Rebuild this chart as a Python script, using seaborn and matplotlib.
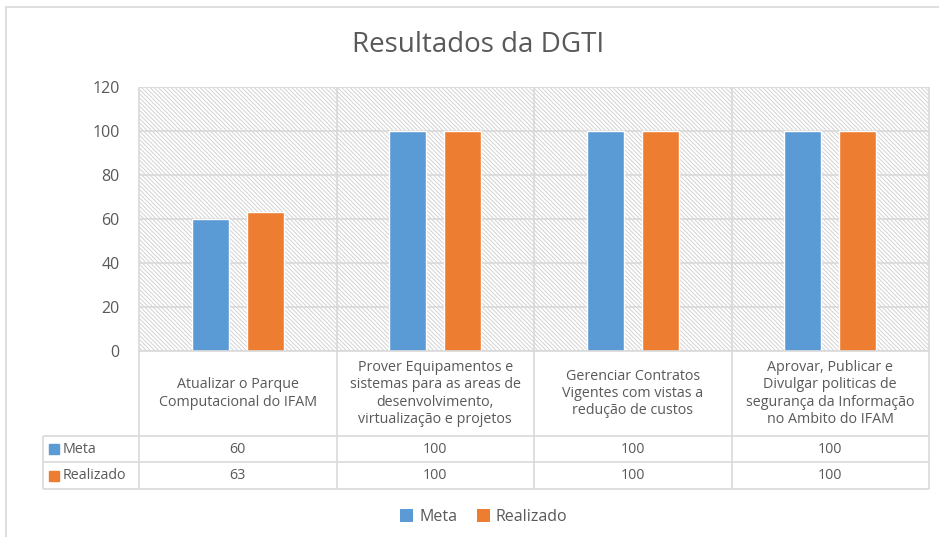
import pandas as pd
import matplotlib.pyplot as plt
import seaborn as sns
from matplotlib.patches import Rectangle, Patch
from matplotlib.lines import Line2D

# dados do grafico
categorias = [
    "Atualizar o Parque\nComputacional do IFAM",
    "Prover Equipamentos e\nsistemas para as areas de\ndesenvolvimento,\nvirtualização e projetos",
    "Gerenciar Contratos\nVigentes com vistas a\nredução de custos",
    "Aprovar, Publicar e\nDivulgar politicas de\nsegurança da Informação\nno Ambito do IFAM",
]
series = ["Meta", "Realizado"]
meta = [60, 100, 100, 100]
realizado = [63, 100, 100, 100]
cores = ["#5B9BD5", "#ED7D31"]

sns.set_style("white")
plt.rcParams['font.family'] = ['Open Sans', 'DejaVu Sans']
plt.rcParams['hatch.linewidth'] = 0.7
cinza = '#595959'
linha = '#d9d9d9'

df = pd.DataFrame({
    'categoria': categorias * 2,
    'valor': meta + realizado,
    'serie': [series[0]] * 4 + [series[1]] * 4,
})

W, H = 939, 537
fig = plt.figure(figsize=(W / 100, H / 100), dpi=100)
ax = fig.add_axes([139 / W, (H - 351) / H, 790 / W, 264 / H])

# fundo hachurado da area de plotagem
ax.add_patch(Rectangle((-0.5, 0), 4, 120, facecolor='white', edgecolor='#d2d2d2',
                       hatch='\\' * 8, lw=0, zorder=0.2))

sns.barplot(data=df, x='categoria', y='valor', hue='serie', palette=cores,
            width=0.556, gap=0.32, saturation=1, errorbar=None, ax=ax, zorder=3)
ax.legend_.remove()

ax.set_xlim(-0.5, 3.5)
ax.set_ylim(0, 120)
ax.set_yticks(range(0, 121, 20))
ax.set_axisbelow(True)
ax.yaxis.grid(True, color=linha, lw=1.2)
ax.tick_params(axis='y', length=0, labelsize=11.5, labelcolor=cinza, pad=14)
ax.set_xticks([])
ax.set_xlabel('')
ax.set_ylabel('')
for s in ax.spines.values():
    s.set_visible(False)

# tabela de dados abaixo do eixo (y em unidades de dados)
y_cat = -38.6
y_meta = -50.5
y_real = -62.7
x_esq = -0.986
ax.hlines(0, -0.5, 3.5, color=linha, lw=1.2, clip_on=False, zorder=4)
for y in [y_cat, y_meta, y_real]:
    ax.hlines(y, x_esq, 3.5, color=linha, lw=1.2, clip_on=False)
ax.vlines([-0.5, 0.5, 1.5, 2.5, 3.5], y_real, 120, color=linha, lw=1.2, clip_on=False, zorder=1)
ax.vlines(x_esq, y_real, y_cat, color=linha, lw=1.2, clip_on=False)

for i, cat in enumerate(categorias):
    ax.text(i, y_cat / 2, cat, ha='center', va='center', fontsize=10.3,
            color=cinza, linespacing=1.22, clip_on=False)
    ax.text(i, (y_cat + y_meta) / 2, str(meta[i]), ha='center', va='center',
            fontsize=10.3, color=cinza, clip_on=False)
    ax.text(i, (y_meta + y_real) / 2, str(realizado[i]), ha='center', va='center',
            fontsize=10.3, color=cinza, clip_on=False)

for nome, cor, y0, y1 in [(series[0], cores[0], y_cat, y_meta),
                          (series[1], cores[1], y_meta, y_real)]:
    ax.plot(x_esq + 0.058, (y0 + y1) / 2, marker='s', ms=7.5, color=cor, clip_on=False)
    ax.text(x_esq + 0.1, (y0 + y1) / 2, nome, ha='left', va='center',
            fontsize=10.3, color=cinza, clip_on=False)

# titulo
fig.text(478 / W, 1 - 45 / H, "Resultados da DGTI", ha='center', va='center',
         fontsize=20, color=cinza)

# legenda
handles = [Patch(facecolor=c, edgecolor='none') for c in cores]
fig.legend(handles, series, loc='center', bbox_to_anchor=(484 / W, 1 - 517 / H),
           ncol=2, frameon=False, fontsize=11.5, handlelength=0.8, handleheight=0.8,
           handletextpad=0.4, columnspacing=1.2, labelcolor=cinza)

# borda externa do grafico
fig.add_artist(Line2D([6 / W, 1], [1 - 7 / H, 1 - 7 / H], transform=fig.transFigure,
                      color=linha, lw=1.2))
fig.add_artist(Line2D([6 / W, 6 / W], [0, 1 - 7 / H], transform=fig.transFigure,
                      color=linha, lw=1.2))

fig.savefig("out.png", dpi=100)
